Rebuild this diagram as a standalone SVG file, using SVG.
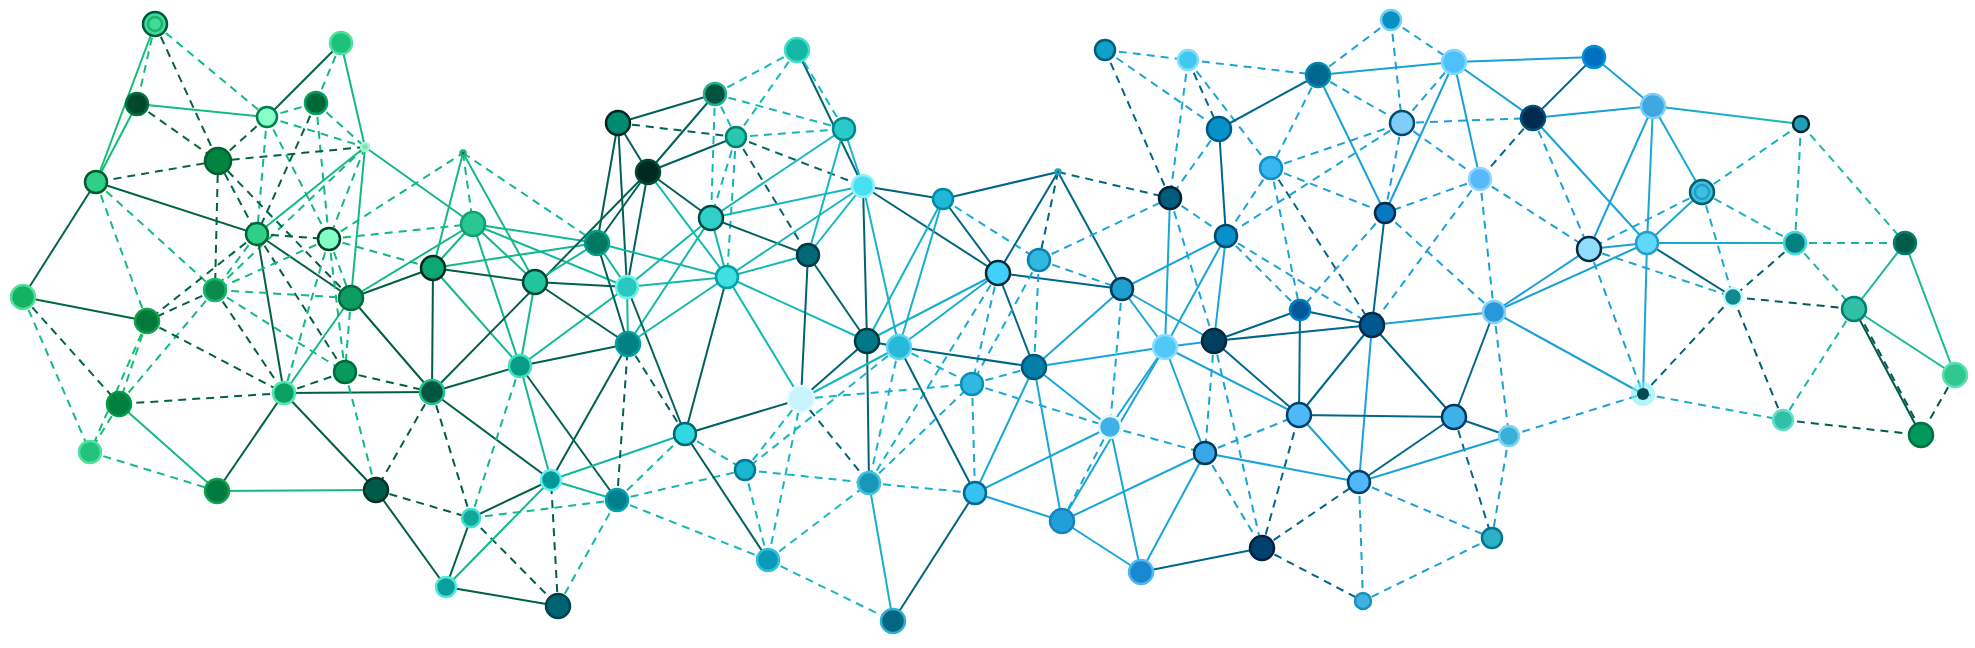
<svg xmlns="http://www.w3.org/2000/svg" width="1975" height="648" viewBox="0 0 1975 648">
<defs>
<linearGradient id="gl" gradientUnits="userSpaceOnUse" x1="0" y1="0" x2="1975" y2="0">
<stop offset="0" stop-color="#12c072"/><stop offset="0.22" stop-color="#10b880"/><stop offset="0.3" stop-color="#10b8a0"/><stop offset="0.42" stop-color="#14b8c4"/><stop offset="0.5" stop-color="#18a8d8"/><stop offset="0.8" stop-color="#1a9ed8"/><stop offset="0.88" stop-color="#18b0c8"/><stop offset="0.93" stop-color="#18b8a0"/><stop offset="1" stop-color="#18bc88"/>
</linearGradient>
<linearGradient id="gk" gradientUnits="userSpaceOnUse" x1="0" y1="0" x2="1975" y2="0">
<stop offset="0" stop-color="#006a3a"/><stop offset="0.22" stop-color="#005e44"/><stop offset="0.3" stop-color="#006050"/><stop offset="0.42" stop-color="#006470"/><stop offset="0.5" stop-color="#006488"/><stop offset="0.8" stop-color="#006890"/><stop offset="0.88" stop-color="#006070"/><stop offset="0.93" stop-color="#005a50"/><stop offset="1" stop-color="#005a40"/>
</linearGradient>
</defs>
<style>
#connectors path{fill:none;stroke-width:2}
.s{stroke:url(#gl)}
.S{stroke:url(#gk);stroke-width:2.2}
.d{stroke:url(#gl);stroke-dasharray:8 6}
.D{stroke:url(#gk);stroke-dasharray:8 6;stroke-width:2.2}
#nodes circle{stroke-width:2.5}
</style>
<rect width="1975" height="648" fill="#ffffff"/>
<g id="connectors">
<path class="d" d="M155 24L137 104"/>
<path class="s" d="M155 24L96 182"/>
<path class="D" d="M155 24L218 161"/>
<path class="d" d="M155 24L267 117"/>
<path class="s" d="M137 104L96 182"/>
<path class="s" d="M137 104L267 117"/>
<path class="D" d="M137 104L218 161"/>
<path class="S" d="M341 43L267 117"/>
<path class="d" d="M341 43L316 103"/>
<path class="s" d="M341 43L365 147"/>
<path class="s" d="M365 147L351 298"/>
<path class="d" d="M267 117L316 103"/>
<path class="d" d="M267 117L365 147"/>
<path class="D" d="M267 117L218 161"/>
<path class="d" d="M267 117L257 234"/>
<path class="d" d="M267 117L329 239"/>
<path class="d" d="M316 103L365 147"/>
<path class="D" d="M316 103L257 234"/>
<path class="d" d="M316 103L329 239"/>
<path class="D" d="M365 147L218 161"/>
<path class="s" d="M365 147L257 234"/>
<path class="s" d="M365 147L473 224"/>
<path class="d" d="M365 147L329 239"/>
<path class="d" d="M365 147L215 290"/>
<path class="D" d="M218 161L96 182"/>
<path class="D" d="M218 161L215 290"/>
<path class="D" d="M218 161L257 234"/>
<path class="D" d="M218 161L351 298"/>
<path class="S" d="M96 182L257 234"/>
<path class="S" d="M96 182L23 297"/>
<path class="d" d="M96 182L215 290"/>
<path class="d" d="M96 182L147 321"/>
<path class="D" d="M257 234L329 239"/>
<path class="S" d="M257 234L351 298"/>
<path class="S" d="M257 234L284 393"/>
<path class="D" d="M257 234L147 321"/>
<path class="d" d="M257 234L215 290"/>
<path class="D" d="M257 234L345 372"/>
<path class="d" d="M329 239L463 153"/>
<path class="d" d="M329 239L473 224"/>
<path class="d" d="M329 239L433 268"/>
<path class="d" d="M329 239L351 298"/>
<path class="d" d="M329 239L215 290"/>
<path class="d" d="M329 239L284 393"/>
<path class="d" d="M329 239L345 372"/>
<path class="d" d="M463 153L473 224"/>
<path class="s" d="M463 153L433 268"/>
<path class="s" d="M463 153L535 282"/>
<path class="d" d="M463 153L597 243"/>
<path class="s" d="M473 224L433 268"/>
<path class="s" d="M473 224L351 298"/>
<path class="s" d="M473 224L535 282"/>
<path class="s" d="M473 224L597 243"/>
<path class="s" d="M473 224L520 366"/>
<path class="s" d="M473 224L627 287"/>
<path class="S" d="M433 268L351 298"/>
<path class="S" d="M433 268L535 282"/>
<path class="s" d="M433 268L597 243"/>
<path class="S" d="M433 268L432 392"/>
<path class="s" d="M433 268L520 366"/>
<path class="s" d="M351 298L284 393"/>
<path class="S" d="M351 298L432 392"/>
<path class="d" d="M351 298L215 290"/>
<path class="d" d="M351 298L345 372"/>
<path class="D" d="M215 290L147 321"/>
<path class="D" d="M215 290L284 393"/>
<path class="d" d="M215 290L119 404"/>
<path class="d" d="M215 290L345 372"/>
<path class="S" d="M23 297L147 321"/>
<path class="D" d="M23 297L119 404"/>
<path class="d" d="M23 297L90 452"/>
<path class="d" d="M147 321L119 404"/>
<path class="d" d="M147 321L90 452"/>
<path class="D" d="M147 321L284 393"/>
<path class="D" d="M284 393L345 372"/>
<path class="S" d="M284 393L432 392"/>
<path class="D" d="M284 393L119 404"/>
<path class="S" d="M284 393L217 491"/>
<path class="S" d="M284 393L376 490"/>
<path class="D" d="M345 372L432 392"/>
<path class="d" d="M345 372L376 490"/>
<path class="D" d="M432 392L376 490"/>
<path class="S" d="M432 392L648 172"/>
<path class="S" d="M432 392L520 366"/>
<path class="D" d="M432 392L471 518"/>
<path class="S" d="M432 392L551 480"/>
<path class="s" d="M119 404L217 491"/>
<path class="d" d="M119 404L90 452"/>
<path class="d" d="M90 452L217 491"/>
<path class="s" d="M217 491L376 490"/>
<path class="D" d="M376 490L471 518"/>
<path class="S" d="M376 490L446 587"/>
<path class="d" d="M520 366L471 518"/>
<path class="s" d="M520 366L551 480"/>
<path class="S" d="M520 366L617 500"/>
<path class="S" d="M520 366L628 344"/>
<path class="s" d="M520 366L535 282"/>
<path class="s" d="M520 366L627 287"/>
<path class="S" d="M471 518L446 587"/>
<path class="S" d="M471 518L551 480"/>
<path class="d" d="M471 518L617 500"/>
<path class="D" d="M471 518L558 606"/>
<path class="S" d="M446 587L558 606"/>
<path class="s" d="M446 587L551 480"/>
<path class="D" d="M558 606L551 480"/>
<path class="d" d="M558 606L617 500"/>
<path class="s" d="M551 480L617 500"/>
<path class="S" d="M551 480L628 344"/>
<path class="s" d="M551 480L685 434"/>
<path class="D" d="M617 500L628 344"/>
<path class="d" d="M617 500L685 434"/>
<path class="d" d="M617 500L745 470"/>
<path class="d" d="M617 500L768 560"/>
<path class="S" d="M535 282L627 287"/>
<path class="S" d="M535 282L628 344"/>
<path class="s" d="M535 282L597 243"/>
<path class="S" d="M618 123L715 94"/>
<path class="S" d="M618 123L648 172"/>
<path class="D" d="M618 123L736 137"/>
<path class="S" d="M618 123L597 243"/>
<path class="S" d="M618 123L627 287"/>
<path class="S" d="M715 94L648 172"/>
<path class="d" d="M715 94L736 137"/>
<path class="d" d="M715 94L797 50"/>
<path class="d" d="M715 94L844 129"/>
<path class="d" d="M715 94L711 218"/>
<path class="S" d="M648 172L736 137"/>
<path class="S" d="M648 172L597 243"/>
<path class="S" d="M648 172L627 287"/>
<path class="S" d="M648 172L711 218"/>
<path class="s" d="M648 172L727 277"/>
<path class="d" d="M736 137L797 50"/>
<path class="d" d="M736 137L844 129"/>
<path class="d" d="M736 137L711 218"/>
<path class="d" d="M736 137L727 277"/>
<path class="D" d="M736 137L808 255"/>
<path class="D" d="M736 137L863 186"/>
<path class="S" d="M797 50L863 186"/>
<path class="d" d="M797 50L844 129"/>
<path class="s" d="M844 129L711 218"/>
<path class="s" d="M844 129L808 255"/>
<path class="s" d="M844 129L863 186"/>
<path class="s" d="M597 243L627 287"/>
<path class="S" d="M597 243L628 344"/>
<path class="s" d="M597 243L727 277"/>
<path class="s" d="M711 218L627 287"/>
<path class="s" d="M711 218L628 344"/>
<path class="s" d="M711 218L727 277"/>
<path class="S" d="M711 218L808 255"/>
<path class="s" d="M711 218L863 186"/>
<path class="s" d="M627 287L628 344"/>
<path class="s" d="M627 287L727 277"/>
<path class="S" d="M627 287L685 434"/>
<path class="s" d="M628 344L727 277"/>
<path class="D" d="M628 344L685 434"/>
<path class="s" d="M727 277L808 255"/>
<path class="s" d="M727 277L863 186"/>
<path class="s" d="M727 277L867 341"/>
<path class="s" d="M727 277L801 399"/>
<path class="S" d="M727 277L685 434"/>
<path class="s" d="M808 255L863 186"/>
<path class="S" d="M808 255L867 341"/>
<path class="S" d="M808 255L801 399"/>
<path class="S" d="M863 186L943 199"/>
<path class="S" d="M863 186L998 273"/>
<path class="S" d="M863 186L867 341"/>
<path class="s" d="M863 186L899 347"/>
<path class="S" d="M943 199L1058 172"/>
<path class="S" d="M943 199L998 273"/>
<path class="d" d="M943 199L1039 260"/>
<path class="s" d="M943 199L867 341"/>
<path class="s" d="M943 199L899 347"/>
<path class="S" d="M1058 172L998 273"/>
<path class="D" d="M1058 172L1039 260"/>
<path class="S" d="M1058 172L1122 289"/>
<path class="D" d="M1058 172L1170 198"/>
<path class="S" d="M998 273L1122 289"/>
<path class="S" d="M998 273L1034 367"/>
<path class="s" d="M998 273L867 341"/>
<path class="s" d="M998 273L899 347"/>
<path class="d" d="M998 273L972 384"/>
<path class="d" d="M998 273L869 483"/>
<path class="d" d="M1039 260L972 384"/>
<path class="d" d="M1039 260L1034 367"/>
<path class="d" d="M1039 260L1122 289"/>
<path class="d" d="M1039 260L1170 198"/>
<path class="S" d="M867 341L899 347"/>
<path class="S" d="M867 341L801 399"/>
<path class="S" d="M867 341L869 483"/>
<path class="s" d="M899 347L801 399"/>
<path class="S" d="M899 347L1034 367"/>
<path class="S" d="M899 347L975 493"/>
<path class="d" d="M899 347L745 470"/>
<path class="d" d="M899 347L869 483"/>
<path class="d" d="M899 347L972 384"/>
<path class="S" d="M801 399L685 434"/>
<path class="d" d="M801 399L745 470"/>
<path class="d" d="M801 399L768 560"/>
<path class="D" d="M801 399L869 483"/>
<path class="d" d="M801 399L972 384"/>
<path class="d" d="M685 434L745 470"/>
<path class="S" d="M685 434L768 560"/>
<path class="d" d="M745 470L768 560"/>
<path class="d" d="M745 470L869 483"/>
<path class="d" d="M768 560L869 483"/>
<path class="d" d="M768 560L893 621"/>
<path class="s" d="M869 483L893 621"/>
<path class="d" d="M869 483L972 384"/>
<path class="d" d="M869 483L975 493"/>
<path class="S" d="M893 621L975 493"/>
<path class="d" d="M972 384L1034 367"/>
<path class="d" d="M972 384L975 493"/>
<path class="d" d="M972 384L1110 427"/>
<path class="s" d="M1034 367L975 493"/>
<path class="s" d="M1034 367L1122 289"/>
<path class="s" d="M1034 367L1110 427"/>
<path class="s" d="M1034 367L1062 521"/>
<path class="s" d="M1034 367L1165 347"/>
<path class="s" d="M975 493L1110 427"/>
<path class="s" d="M975 493L1062 521"/>
<path class="d" d="M1122 289L1110 427"/>
<path class="s" d="M1122 289L1165 347"/>
<path class="s" d="M1122 289L1214 341"/>
<path class="s" d="M1122 289L1226 236"/>
<path class="d" d="M1110 427L1062 521"/>
<path class="s" d="M1110 427L1141 572"/>
<path class="s" d="M1110 427L1165 347"/>
<path class="d" d="M1110 427L1205 453"/>
<path class="s" d="M1062 521L1141 572"/>
<path class="s" d="M1062 521L1165 347"/>
<path class="s" d="M1062 521L1205 453"/>
<path class="s" d="M1141 572L1205 453"/>
<path class="S" d="M1141 572L1262 548"/>
<path class="s" d="M1165 347L1214 341"/>
<path class="s" d="M1165 347L1205 453"/>
<path class="s" d="M1165 347L1170 198"/>
<path class="s" d="M1165 347L1226 236"/>
<path class="s" d="M1165 347L1299 415"/>
<path class="d" d="M1214 341L1205 453"/>
<path class="d" d="M1214 341L1262 548"/>
<path class="s" d="M1214 341L1226 236"/>
<path class="S" d="M1214 341L1300 310"/>
<path class="S" d="M1214 341L1372 325"/>
<path class="S" d="M1214 341L1299 415"/>
<path class="d" d="M1205 453L1262 548"/>
<path class="d" d="M1205 453L1299 415"/>
<path class="s" d="M1205 453L1359 482"/>
<path class="D" d="M1262 548L1299 415"/>
<path class="D" d="M1262 548L1359 482"/>
<path class="D" d="M1262 548L1363 601"/>
<path class="d" d="M1105 50L1188 60"/>
<path class="d" d="M1105 50L1219 129"/>
<path class="D" d="M1105 50L1170 198"/>
<path class="d" d="M1188 60L1318 75"/>
<path class="D" d="M1188 60L1219 129"/>
<path class="d" d="M1188 60L1170 198"/>
<path class="d" d="M1188 60L1271 168"/>
<path class="S" d="M1318 75L1219 129"/>
<path class="d" d="M1318 75L1271 168"/>
<path class="d" d="M1318 75L1391 20"/>
<path class="s" d="M1318 75L1454 62"/>
<path class="d" d="M1318 75L1402 123"/>
<path class="s" d="M1318 75L1385 213"/>
<path class="d" d="M1219 129L1170 198"/>
<path class="S" d="M1219 129L1226 236"/>
<path class="d" d="M1170 198L1226 236"/>
<path class="d" d="M1170 198L1214 341"/>
<path class="d" d="M1271 168L1402 123"/>
<path class="d" d="M1271 168L1385 213"/>
<path class="d" d="M1271 168L1226 236"/>
<path class="d" d="M1271 168L1300 310"/>
<path class="D" d="M1271 168L1372 325"/>
<path class="d" d="M1391 20L1454 62"/>
<path class="d" d="M1391 20L1402 123"/>
<path class="s" d="M1454 62L1594 57"/>
<path class="d" d="M1454 62L1402 123"/>
<path class="s" d="M1454 62L1533 118"/>
<path class="s" d="M1454 62L1480 179"/>
<path class="s" d="M1454 62L1385 213"/>
<path class="S" d="M1594 57L1533 118"/>
<path class="s" d="M1594 57L1653 106"/>
<path class="d" d="M1402 123L1533 118"/>
<path class="d" d="M1402 123L1480 179"/>
<path class="d" d="M1402 123L1385 213"/>
<path class="d" d="M1402 123L1226 236"/>
<path class="s" d="M1533 118L1653 106"/>
<path class="D" d="M1533 118L1480 179"/>
<path class="s" d="M1533 118L1647 243"/>
<path class="d" d="M1533 118L1589 249"/>
<path class="s" d="M1653 106L1801 124"/>
<path class="s" d="M1653 106L1702 192"/>
<path class="s" d="M1653 106L1589 249"/>
<path class="s" d="M1653 106L1647 243"/>
<path class="d" d="M1801 124L1702 192"/>
<path class="d" d="M1801 124L1795 243"/>
<path class="d" d="M1801 124L1905 243"/>
<path class="d" d="M1480 179L1385 213"/>
<path class="d" d="M1480 179L1372 325"/>
<path class="d" d="M1480 179L1589 249"/>
<path class="d" d="M1480 179L1494 312"/>
<path class="d" d="M1385 213L1300 310"/>
<path class="S" d="M1385 213L1372 325"/>
<path class="d" d="M1385 213L1494 312"/>
<path class="d" d="M1226 236L1300 310"/>
<path class="d" d="M1226 236L1372 325"/>
<path class="S" d="M1300 310L1372 325"/>
<path class="S" d="M1300 310L1299 415"/>
<path class="s" d="M1372 325L1494 312"/>
<path class="S" d="M1372 325L1299 415"/>
<path class="S" d="M1372 325L1454 417"/>
<path class="s" d="M1372 325L1359 482"/>
<path class="d" d="M1702 192L1589 249"/>
<path class="s" d="M1702 192L1647 243"/>
<path class="d" d="M1702 192L1795 243"/>
<path class="d" d="M1702 192L1733 297"/>
<path class="s" d="M1589 249L1647 243"/>
<path class="s" d="M1589 249L1494 312"/>
<path class="d" d="M1589 249L1733 297"/>
<path class="d" d="M1589 249L1643 394"/>
<path class="s" d="M1647 243L1795 243"/>
<path class="S" d="M1647 243L1733 297"/>
<path class="s" d="M1647 243L1494 312"/>
<path class="s" d="M1647 243L1643 394"/>
<path class="d" d="M1795 243L1905 243"/>
<path class="D" d="M1795 243L1733 297"/>
<path class="d" d="M1795 243L1854 309"/>
<path class="D" d="M1733 297L1783 420"/>
<path class="s" d="M1905 243L1854 309"/>
<path class="s" d="M1905 243L1955 375"/>
<path class="D" d="M1733 297L1854 309"/>
<path class="D" d="M1733 297L1643 394"/>
<path class="d" d="M1854 309L1783 420"/>
<path class="S" d="M1854 309L1921 435"/>
<path class="D" d="M1858 312L1925 438"/>
<path class="s" d="M1854 309L1955 375"/>
<path class="S" d="M1494 312L1454 417"/>
<path class="d" d="M1494 312L1509 436"/>
<path class="s" d="M1494 312L1643 394"/>
<path class="S" d="M1299 415L1454 417"/>
<path class="s" d="M1299 415L1359 482"/>
<path class="S" d="M1454 417L1509 436"/>
<path class="S" d="M1454 417L1359 482"/>
<path class="D" d="M1454 417L1492 538"/>
<path class="d" d="M1509 436L1643 394"/>
<path class="s" d="M1509 436L1359 482"/>
<path class="d" d="M1509 436L1492 538"/>
<path class="d" d="M1643 394L1783 420"/>
<path class="D" d="M1783 420L1921 435"/>
<path class="D" d="M1955 375L1921 435"/>
<path class="d" d="M1359 482L1492 538"/>
<path class="d" d="M1359 482L1363 601"/>
<path class="d" d="M1492 538L1363 601"/>
</g>
<g id="nodes">
<g id="n1"><circle cx="155" cy="24" r="12" fill="#3ddc97" stroke="#00563a"/><circle cx="155" cy="24" r="7" fill="none" stroke="#20b070" stroke-width="1.5"/></g>
<g id="n2"><circle cx="341" cy="43" r="11" fill="#1dc27a" stroke="#4ee0a0"/></g>
<g id="n3"><circle cx="137" cy="104" r="11" fill="#00472b" stroke="#007040"/></g>
<g id="n4"><circle cx="267" cy="117" r="10" fill="#86ffc8" stroke="#00804a"/></g>
<g id="n5"><circle cx="316" cy="103" r="11" fill="#006837" stroke="#00a060"/></g>
<g id="n6"><circle cx="365" cy="147" r="4" fill="#7de8b4" stroke="#a8f4d0" stroke-width="1"/></g>
<g id="n7"><circle cx="218" cy="161" r="13" fill="#00843f" stroke="#006030"/></g>
<g id="n8"><circle cx="96" cy="182" r="11" fill="#2ecf87" stroke="#005a33"/></g>
<g id="n9"><circle cx="257" cy="234" r="11" fill="#2ecf87" stroke="#006838"/></g>
<g id="n10"><circle cx="329" cy="239" r="11" fill="#84ffc4" stroke="#004028"/></g>
<g id="n11"><circle cx="463" cy="153" r="2.5" fill="#006a4a" stroke="#20b080" stroke-width="1"/></g>
<g id="n12"><circle cx="473" cy="224" r="12" fill="#28c890" stroke="#10a070"/></g>
<g id="n13"><circle cx="433" cy="268" r="12" fill="#0aa870" stroke="#002a1c"/></g>
<g id="n14"><circle cx="351" cy="298" r="12" fill="#0d9c62" stroke="#006a40"/></g>
<g id="n15"><circle cx="535" cy="282" r="12" fill="#22c49e" stroke="#004438"/></g>
<g id="n16"><circle cx="215" cy="290" r="11" fill="#0a8a4c" stroke="#10b868"/></g>
<g id="n17"><circle cx="23" cy="297" r="12" fill="#12b262" stroke="#50e0a0"/></g>
<g id="n18"><circle cx="147" cy="321" r="12" fill="#007a3a" stroke="#10a050"/></g>
<g id="n19"><circle cx="284" cy="393" r="11" fill="#0aa062" stroke="#50e8b0"/></g>
<g id="n20"><circle cx="345" cy="372" r="11" fill="#079a5c" stroke="#006a3c"/></g>
<g id="n21"><circle cx="432" cy="392" r="12" fill="#00563e" stroke="#20c090"/></g>
<g id="n22"><circle cx="119" cy="404" r="12" fill="#00803c" stroke="#009a4c"/></g>
<g id="n23"><circle cx="90" cy="452" r="11" fill="#20c47a" stroke="#50e0a0"/></g>
<g id="n24"><circle cx="217" cy="491" r="12" fill="#007a3e" stroke="#10a050"/></g>
<g id="n25"><circle cx="376" cy="490" r="12" fill="#005a48" stroke="#003428"/></g>
<g id="n26"><circle cx="520" cy="366" r="11" fill="#089c86" stroke="#40e0c0"/></g>
<g id="n27"><circle cx="471" cy="518" r="9" fill="#10a898" stroke="#40e0d0"/></g>
<g id="n28"><circle cx="446" cy="587" r="10" fill="#08a098" stroke="#50e8e0"/></g>
<g id="n29"><circle cx="558" cy="606" r="12" fill="#006470" stroke="#004050"/></g>
<g id="n30"><circle cx="551" cy="480" r="10" fill="#009898" stroke="#60f0f0"/></g>
<g id="n31"><circle cx="617" cy="500" r="11" fill="#00808c" stroke="#00a0b0"/></g>
<g id="n32"><circle cx="618" cy="123" r="12" fill="#008a70" stroke="#002820"/></g>
<g id="n33"><circle cx="715" cy="94" r="11" fill="#00543f" stroke="#20b090"/></g>
<g id="n34"><circle cx="648" cy="172" r="12" fill="#002a20" stroke="#004a3a"/></g>
<g id="n35"><circle cx="736" cy="137" r="10" fill="#28c8b0" stroke="#008070"/></g>
<g id="n36"><circle cx="797" cy="50" r="12" fill="#14b8a2" stroke="#40e0c8"/></g>
<g id="n37"><circle cx="844" cy="129" r="11" fill="#2acaca" stroke="#008888"/></g>
<g id="n38"><circle cx="597" cy="243" r="12" fill="#007862" stroke="#00a088"/></g>
<g id="n39"><circle cx="711" cy="218" r="12" fill="#30d0c8" stroke="#004a48"/></g>
<g id="n40"><circle cx="627" cy="287" r="11" fill="#28c8c0" stroke="#70f0e8"/></g>
<g id="n41"><circle cx="628" cy="344" r="12" fill="#008080" stroke="#00a0a0"/></g>
<g id="n42"><circle cx="727" cy="277" r="11" fill="#40e0e0" stroke="#00a0a8"/></g>
<g id="n43"><circle cx="808" cy="255" r="11" fill="#006a78" stroke="#003a48"/></g>
<g id="n44"><circle cx="863" cy="186" r="11" fill="#48e0f0" stroke="#90f0f8"/></g>
<g id="n45"><circle cx="943" cy="199" r="10" fill="#20b8d8" stroke="#008aa8"/></g>
<g id="n46"><circle cx="1058" cy="172" r="2.5" fill="#006880" stroke="#20a0c0" stroke-width="1"/></g>
<g id="n47"><circle cx="998" cy="273" r="12" fill="#40d0f8" stroke="#002a38"/></g>
<g id="n48"><circle cx="1039" cy="260" r="11" fill="#30b8e0" stroke="#0a80b0"/></g>
<g id="n49"><circle cx="867" cy="341" r="12" fill="#007888" stroke="#003844"/></g>
<g id="n50"><circle cx="899" cy="347" r="12" fill="#28b8d8" stroke="#60d8f0"/></g>
<g id="n51"><circle cx="801" cy="399" r="13" fill="#c8f4fc" stroke="#e0fbff"/></g>
<g id="n52"><circle cx="685" cy="434" r="11" fill="#30d8e0" stroke="#006878"/></g>
<g id="n53"><circle cx="745" cy="470" r="10" fill="#18b8d0" stroke="#007a90"/></g>
<g id="n54"><circle cx="768" cy="560" r="11" fill="#089ab8" stroke="#30c0d8"/></g>
<g id="n55"><circle cx="869" cy="483" r="11" fill="#1898b8" stroke="#40c0e0"/></g>
<g id="n56"><circle cx="893" cy="621" r="12" fill="#006682" stroke="#30b0d0"/></g>
<g id="n57"><circle cx="972" cy="384" r="11" fill="#30b8e0" stroke="#0890b8"/></g>
<g id="n58"><circle cx="1034" cy="367" r="12" fill="#0080a8" stroke="#005878"/></g>
<g id="n59"><circle cx="975" cy="493" r="11" fill="#38c0f0" stroke="#006a90"/></g>
<g id="n60"><circle cx="1122" cy="289" r="11" fill="#20a0d0" stroke="#003a58"/></g>
<g id="n61"><circle cx="1110" cy="427" r="11" fill="#40b0e8" stroke="#e0f6ff" stroke-width="3"/></g>
<g id="n62"><circle cx="1062" cy="521" r="12" fill="#20a0d8" stroke="#1a80c0"/></g>
<g id="n63"><circle cx="1141" cy="572" r="12" fill="#1888d0" stroke="#50b8f0"/></g>
<g id="n64"><circle cx="1165" cy="347" r="12" fill="#50c8f8" stroke="#90dcfc"/></g>
<g id="n65"><circle cx="1214" cy="341" r="12" fill="#00405e" stroke="#002a40"/></g>
<g id="n66"><circle cx="1205" cy="453" r="11" fill="#38a8e8" stroke="#003a58"/></g>
<g id="n67"><circle cx="1262" cy="548" r="12" fill="#004070" stroke="#002040"/></g>
<g id="n68"><circle cx="1105" cy="50" r="10" fill="#10a0c8" stroke="#00607c"/></g>
<g id="n69"><circle cx="1188" cy="60" r="10" fill="#40c8f0" stroke="#80e0fa"/></g>
<g id="n70"><circle cx="1318" cy="75" r="12" fill="#006890" stroke="#0088b0"/></g>
<g id="n71"><circle cx="1219" cy="129" r="12" fill="#0890c8" stroke="#005a80"/></g>
<g id="n72"><circle cx="1170" cy="198" r="11" fill="#005c7c" stroke="#002030"/></g>
<g id="n73"><circle cx="1271" cy="168" r="11" fill="#38b8f0" stroke="#1090c8"/></g>
<g id="n74"><circle cx="1391" cy="20" r="10" fill="#0890c0" stroke="#70d0f0"/></g>
<g id="n75"><circle cx="1454" cy="62" r="12" fill="#50c0f8" stroke="#80d8ff"/></g>
<g id="n76"><circle cx="1594" cy="57" r="11" fill="#0070c0" stroke="#0090d8"/></g>
<g id="n77"><circle cx="1402" cy="123" r="12" fill="#80ccf8" stroke="#004a70"/></g>
<g id="n78"><circle cx="1533" cy="118" r="12" fill="#002a4e" stroke="#00507a"/></g>
<g id="n79"><circle cx="1653" cy="106" r="12" fill="#40a8e0" stroke="#80ccf4"/></g>
<g id="n80"><circle cx="1801" cy="124" r="8" fill="#20a0b8" stroke="#002a30"/></g>
<g id="n81"><circle cx="1480" cy="179" r="11" fill="#58b8f8" stroke="#90d4ff"/></g>
<g id="n82"><circle cx="1385" cy="213" r="10" fill="#0878c0" stroke="#002a50"/></g>
<g id="n83"><circle cx="1226" cy="236" r="11" fill="#0890c8" stroke="#004a70"/></g>
<g id="n84"><circle cx="1300" cy="310" r="10" fill="#005898" stroke="#0080c0"/></g>
<g id="n85"><circle cx="1372" cy="325" r="12" fill="#005890" stroke="#002a48"/></g>
<g id="n86"><circle cx="1702" cy="192" r="12" fill="#40c0e0" stroke="#006070"/><circle cx="1702" cy="192" r="7" fill="none" stroke="#20a0c0" stroke-width="1.5"/></g>
<g id="n87"><circle cx="1589" cy="249" r="12" fill="#90dcfc" stroke="#002a40"/></g>
<g id="n88"><circle cx="1647" cy="243" r="11" fill="#60d8f8" stroke="#20a0d0"/></g>
<g id="n89"><circle cx="1795" cy="243" r="11" fill="#008080" stroke="#40d8d8"/></g>
<g id="n90"><circle cx="1905" cy="243" r="11" fill="#005c48" stroke="#00806a"/></g>
<g id="n91"><circle cx="1733" cy="297" r="9" fill="#108a90" stroke="#c0f8ff" stroke-width="3"/></g>
<g id="n92"><circle cx="1854" cy="309" r="12" fill="#30c0a8" stroke="#008070"/></g>
<g id="n93"><circle cx="1494" cy="312" r="11" fill="#2898d8" stroke="#80d0f8"/></g>
<g id="n94"><circle cx="1299" cy="415" r="12" fill="#50b8f8" stroke="#00406a"/></g>
<g id="n95"><circle cx="1454" cy="417" r="12" fill="#40b0e8" stroke="#003a60"/></g>
<g id="n96"><circle cx="1509" cy="436" r="10" fill="#38b0d8" stroke="#80d4f0"/></g>
<g id="n97"><circle cx="1643" cy="394" r="12" fill="#80eef8" opacity="0.6"/><circle cx="1643" cy="394" r="6" fill="#004a50" stroke="none"/></g>
<g id="n98"><circle cx="1783" cy="420" r="10" fill="#30c0a8" stroke="#60e0c8"/></g>
<g id="n99"><circle cx="1955" cy="375" r="12" fill="#30c890" stroke="#60e0b0"/></g>
<g id="n100"><circle cx="1921" cy="435" r="12" fill="#00985c" stroke="#007040"/></g>
<g id="n101"><circle cx="1359" cy="482" r="11" fill="#50b8f8" stroke="#00406a"/></g>
<g id="n102"><circle cx="1492" cy="538" r="10" fill="#30b0c8" stroke="#007890"/></g>
<g id="n103"><circle cx="1363" cy="601" r="8" fill="#40b0e0" stroke="#1890c0"/></g>
</g>
</svg>
